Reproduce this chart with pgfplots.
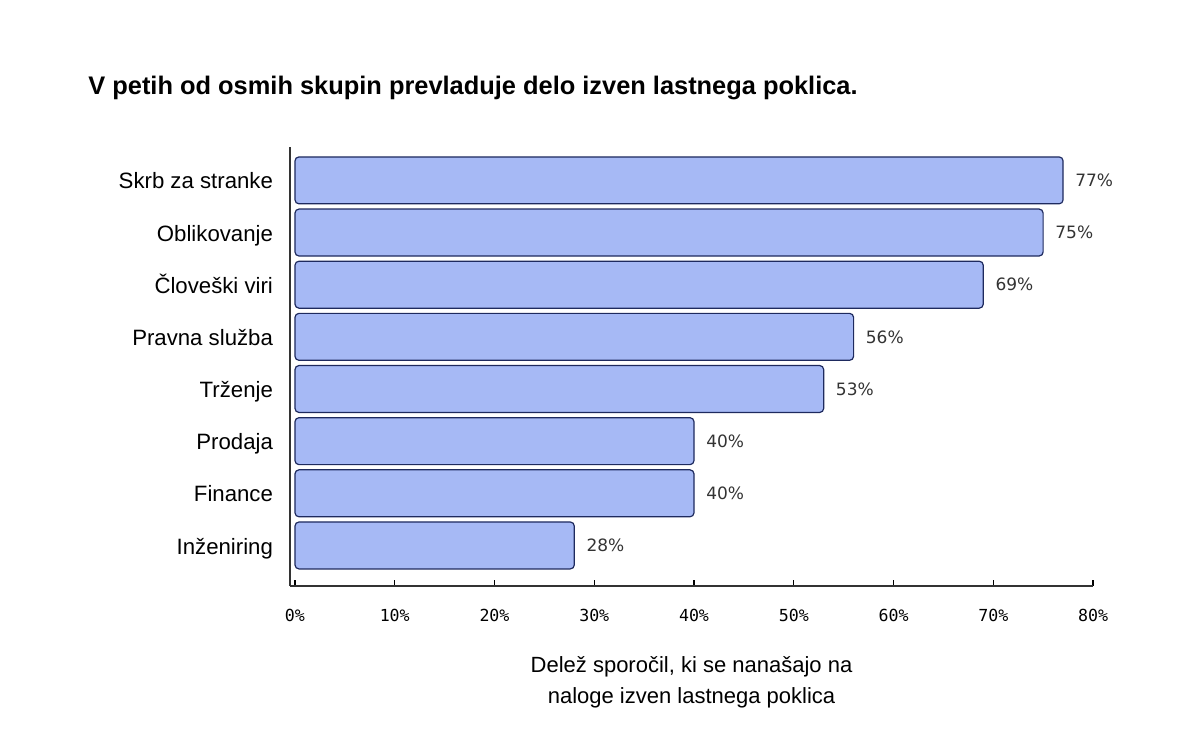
\documentclass[border=0pt]{standalone}
\usepackage{fontspec}
\setmainfont{Liberation Sans}
\newfontfamily\valfont{DejaVu Sans}
\newfontfamily\tickfont{DejaVu Sans Mono}
\usepackage{pgfplots}
\pgfplotsset{compat=1.18}
\definecolor{barfill}{HTML}{A6B9F5}
\definecolor{baredge}{HTML}{1E2A5E}
\definecolor{valgray}{HTML}{333333}
\definecolor{spine}{HTML}{333333}
\begin{document}
\begin{tikzpicture}
% page frame: 1200 x 747 px, 1 px = 0.5pt
\path (0,0) rectangle (600pt,373.5pt);
\node[anchor=base west, inner sep=0pt, font=\fontsize{12.7}{15}\selectfont\bfseries] at (44pt,326pt)
  {V petih od osmih skupin prevladuje delo izven lastnega poklica.};
\begin{axis}[
  at={(145pt,80.5pt)}, anchor=south west,
  scale only axis, width=401.5pt, height=219.5pt,
  xmin=-0.5, xmax=80, ymin=-0.777, ymax=7.64,
  axis lines*=left,
  axis line style={spine, line width=0.6pt},
  xtick={0,10,...,80},
  xticklabel={\pgfmathprintnumber{\tick}\%},
  /pgf/number format/assume math mode=true,
  xticklabel style={font=\tickfont\fontsize{8.3}{10}\selectfont, yshift=-8pt},
  x tick style={black, line width=0.6pt},
  major tick length=3pt,
  ytick={0,...,7},
  yticklabels={Inženiring, Finance, Prodaja, Trženje, Pravna služba, Človeški viri, Oblikovanje, Skrb za stranke},
  y tick style={draw=none},
  yticklabel style={font=\fontsize{11.1}{13}\selectfont, xshift=-2pt, yshift=-1.5pt, text height=8pt, text depth=2.4pt},
  xlabel={Delež sporočil, ki se nanašajo na\\naloge izven lastnega poklica},
  xlabel style={font=\fontsize{11}{15.5}\selectfont, align=center, yshift=-10.5pt},
  xbar, bar width=0.9,
  nodes near coords={\pgfmathprintnumber{\pgfplotspointmeta}\%},
  every node near coord/.append style={font=\valfont\fontsize{8.5}{10}\selectfont, text=valgray, xshift=2.5pt},
  point meta=x,
  clip=false,
]
\addplot[fill=barfill, draw=baredge, line width=0.6pt, rounded corners=2pt] coordinates {
(28,0)
(40,1)
(40,2)
(53,3)
(56,4)
(69,5)
(75,6)
(77,7)
};
\end{axis}
\end{tikzpicture}
\end{document}
